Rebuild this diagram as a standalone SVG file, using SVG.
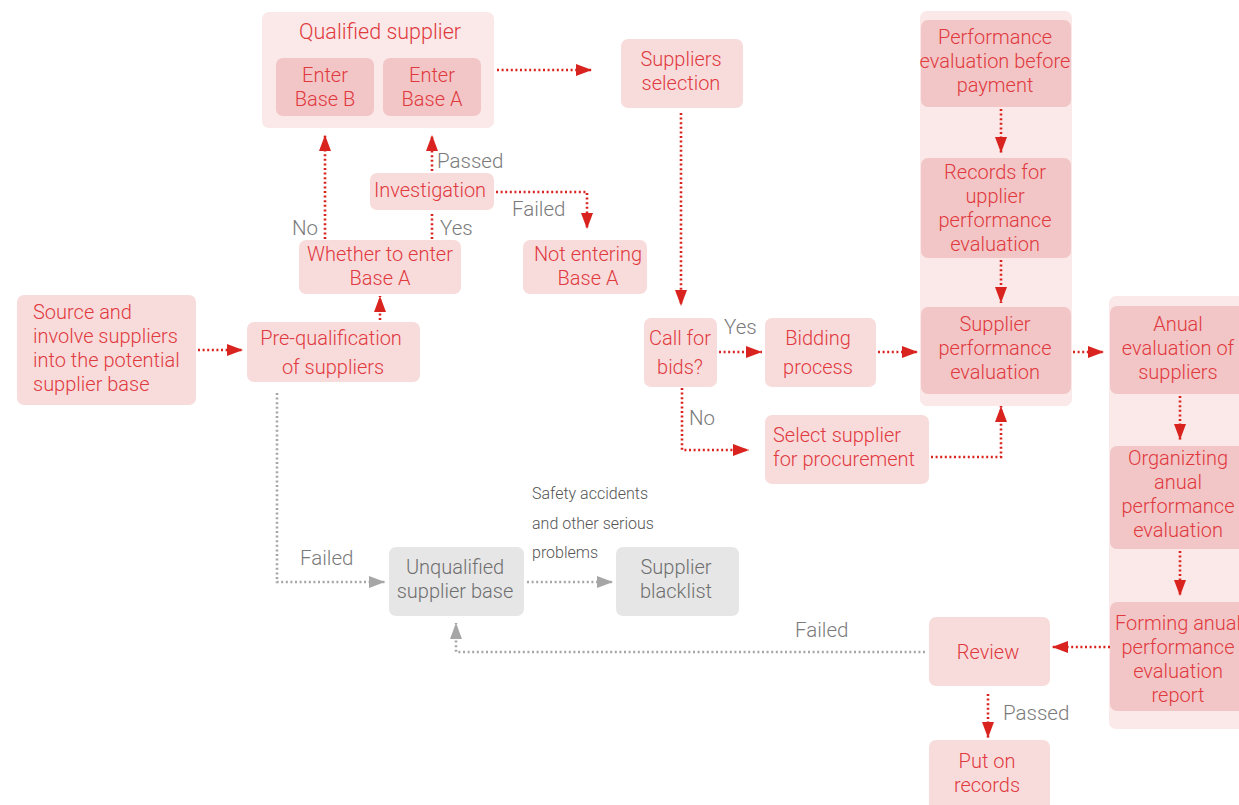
<svg xmlns="http://www.w3.org/2000/svg" width="1239" height="805" viewBox="0 0 1239 805">
  <style>
    .box { fill: #f8dcdc; }
    .inner { fill: #f2c6c6; }
    .panel { fill: #fbe8e8; }
    .gray { fill: #e6e6e6; }
    text { font-family: Roboto, "Liberation Sans", sans-serif; font-weight: 300; font-size: 20px; }
    .title { font-size: 21.5px; }
    .t { fill: #e0393e; text-anchor: middle; }
    .tl { fill: #e0393e; }
    .tg { fill: #6f6f6f; text-anchor: middle; }
    .lbl { fill: #7a7a7a; font-size: 20.5px; }
    .note { fill: #555555; font-size: 16px; }
    .red { fill: none; stroke: #d9231f; stroke-width: 2.6; stroke-dasharray: 2 2.6; }
    .grey { fill: none; stroke: #a6a6a6; stroke-width: 2.6; stroke-dasharray: 2 2.6; }
    .redarrow { marker-end: url(#ar); }
    .greyarrow { marker-end: url(#ag); }
  </style>
  <defs>
    <marker id="ar" viewBox="0 0 16 12" refX="16" refY="6" markerWidth="16" markerHeight="12" markerUnits="userSpaceOnUse" orient="auto">
      <path d="M0,0 L16,6 L0,12 z" fill="#d9231f"/>
    </marker>
    <marker id="ag" viewBox="0 0 16 12" refX="16" refY="6" markerWidth="16" markerHeight="12" markerUnits="userSpaceOnUse" orient="auto">
      <path d="M0,0 L16,6 L0,12 z" fill="#a6a6a6"/>
    </marker>
  </defs>

  <rect width="1239" height="805" fill="#ffffff"/>

  <!-- background panels -->
  <rect class="panel" x="920" y="11" width="152" height="395" rx="7"/>
  <rect class="panel" x="1109" y="296" width="140" height="433" rx="7"/>

  <!-- connectors -->
  <g id="connectors">
    <path class="red redarrow" d="M497,70 H592"/>
    <path class="red redarrow" d="M198,350 H243"/>
    <path class="red redarrow" d="M380,320 V296"/>
    <path class="red redarrow" d="M325,239 V135"/>
    <path class="red" d="M432,239 V212"/>
    <path class="red redarrow" d="M432,171 V135"/>
    <path class="red redarrow" d="M496,192 H587 V229"/>
    <path class="red redarrow" d="M681,113 V306"/>
    <path class="red redarrow" d="M719,352 H762"/>
    <path class="red redarrow" d="M878,352 H918"/>
    <path class="red redarrow" d="M682,388 V450 H749"/>
    <path class="red redarrow" d="M931,457 H1001 V406"/>
    <path class="red redarrow" d="M1001,109 V153"/>
    <path class="red redarrow" d="M1001,260 V303"/>
    <path class="red redarrow" d="M1073,352 H1104"/>
    <path class="red redarrow" d="M1180,396 V440"/>
    <path class="red redarrow" d="M1180,551 V596"/>
    <path class="red redarrow" d="M1110,647 H1052"/>
    <path class="red redarrow" d="M988,694 V738"/>
    <path class="grey greyarrow" d="M277,393 V582 H385"/>
    <path class="grey greyarrow" d="M527,582 H613"/>
    <path class="grey greyarrow" d="M925,652 H456 V623"/>
  </g>

  <!-- nodes -->
  <g id="qualified-supplier">
    <rect class="panel" x="262" y="12" width="232" height="116" rx="7"/>
    <text class="t title" x="380" y="39">Qualified supplier</text>
  </g>
  <g id="enter-base-b">
    <rect class="inner" x="276" y="58" width="98" height="58" rx="7"/>
    <text class="t" x="325" y="82">Enter</text>
    <text class="t" x="325" y="106">Base B</text>
  </g>
  <g id="enter-base-a">
    <rect class="inner" x="383" y="58" width="98" height="58" rx="7"/>
    <text class="t" x="432" y="82">Enter</text>
    <text class="t" x="432" y="106">Base A</text>
  </g>
  <g id="suppliers-selection">
    <rect class="box" x="621" y="39" width="122" height="69" rx="7"/>
    <text class="t" x="681" y="66">Suppliers</text>
    <text class="t" x="681" y="90">selection</text>
  </g>
  <g id="eval-before-payment">
    <rect class="inner" x="921" y="20" width="150" height="87" rx="7"/>
    <text class="t" x="995" y="44">Performance</text>
    <text class="t" x="995" y="68">evaluation before</text>
    <text class="t" x="995" y="92">payment</text>
  </g>
  <g id="evaluation-records">
    <rect class="inner" x="921" y="158" width="150" height="100" rx="7"/>
    <text class="t" x="995" y="179">Records for</text>
    <text class="t" x="995" y="203">upplier</text>
    <text class="t" x="995" y="227">performance</text>
    <text class="t" x="995" y="251">evaluation</text>
  </g>
  <g id="supplier-performance-evaluation">
    <rect class="inner" x="921" y="307" width="150" height="87" rx="7"/>
    <text class="t" x="995" y="331">Supplier</text>
    <text class="t" x="995" y="355">performance</text>
    <text class="t" x="995" y="379">evaluation</text>
  </g>
  <g id="annual-evaluation">
    <rect class="inner" x="1110" y="306" width="140" height="88" rx="7"/>
    <text class="t" x="1178" y="331">Anual</text>
    <text class="t" x="1178" y="355">evaluation of</text>
    <text class="t" x="1178" y="379">suppliers</text>
  </g>
  <g id="organizing-annual-evaluation">
    <rect class="inner" x="1110" y="446" width="140" height="103" rx="7"/>
    <text class="t" x="1178" y="465">Organizting</text>
    <text class="t" x="1178" y="489">anual</text>
    <text class="t" x="1178" y="513">performance</text>
    <text class="t" x="1178" y="537">evaluation</text>
  </g>
  <g id="annual-report">
    <rect class="inner" x="1110" y="602" width="140" height="109" rx="7"/>
    <text class="t" x="1178" y="630">Forming anual</text>
    <text class="t" x="1178" y="654">performance</text>
    <text class="t" x="1178" y="678">evaluation</text>
    <text class="t" x="1178" y="702">report</text>
  </g>
  <g id="review">
    <rect class="box" x="929" y="617" width="121" height="69" rx="7"/>
    <text class="t" x="988" y="659">Review</text>
  </g>
  <g id="put-on-records">
    <rect class="box" x="929" y="740" width="121" height="75" rx="7"/>
    <text class="t" x="987" y="768">Put on</text>
    <text class="t" x="987" y="792">records</text>
  </g>
  <g id="source-suppliers">
    <rect class="box" x="17" y="295" width="179" height="110" rx="7"/>
    <text class="tl" x="33" y="319">Source and</text>
    <text class="tl" x="33" y="343">involve suppliers</text>
    <text class="tl" x="33" y="367">into the potential</text>
    <text class="tl" x="33" y="391">supplier base</text>
  </g>
  <g id="pre-qualification">
    <rect class="box" x="247" y="322" width="173" height="60" rx="7"/>
    <text class="t" x="331" y="345">Pre-qualification</text>
    <text class="t" x="333" y="374">of suppliers</text>
  </g>
  <g id="whether-base-a">
    <rect class="box" x="299" y="240" width="162" height="54" rx="7"/>
    <text class="t" x="380" y="261">Whether to enter</text>
    <text class="t" x="380" y="285">Base A</text>
  </g>
  <g id="investigation">
    <rect class="box" x="370" y="173" width="124" height="37" rx="7"/>
    <text class="t" x="430" y="197">Investigation</text>
  </g>
  <g id="not-entering-base-a">
    <rect class="box" x="523" y="240" width="124" height="54" rx="7"/>
    <text class="t" x="588" y="261">Not entering</text>
    <text class="t" x="588" y="285">Base A</text>
  </g>
  <g id="call-for-bids">
    <rect class="box" x="644" y="318" width="73" height="69" rx="7"/>
    <text class="t" x="680" y="345">Call for</text>
    <text class="t" x="680" y="374">bids?</text>
  </g>
  <g id="bidding-process">
    <rect class="box" x="765" y="318" width="111" height="69" rx="7"/>
    <text class="t" x="818" y="345">Bidding</text>
    <text class="t" x="818" y="374">process</text>
  </g>
  <g id="select-supplier">
    <rect class="box" x="765" y="415" width="164" height="69" rx="7"/>
    <text class="tl" x="773" y="442">Select supplier</text>
    <text class="tl" x="773" y="466">for procurement</text>
  </g>
  <g id="unqualified-base">
    <rect class="gray" x="389" y="547" width="135" height="69" rx="7"/>
    <text class="tg" x="455" y="574">Unqualified</text>
    <text class="tg" x="455" y="598">supplier base</text>
  </g>
  <g id="supplier-blacklist">
    <rect class="gray" x="616" y="547" width="123" height="69" rx="7"/>
    <text class="tg" x="676" y="574">Supplier</text>
    <text class="tg" x="676" y="598">blacklist</text>
  </g>

  <!-- connector labels -->
  <g id="labels">
    <text class="lbl" x="437" y="168">Passed</text>
    <text class="lbl" x="318" y="235" text-anchor="end">No</text>
    <text class="lbl" x="440" y="235">Yes</text>
    <text class="lbl" x="512" y="216">Failed</text>
    <text class="lbl" x="724" y="334">Yes</text>
    <text class="lbl" x="689" y="425">No</text>
    <text class="lbl" x="300" y="565">Failed</text>
    <text class="lbl" x="795" y="637">Failed</text>
    <text class="lbl" x="1003" y="720">Passed</text>
    <text class="note" x="532" y="499">Safety accidents</text>
    <text class="note" x="532" y="529">and other serious</text>
    <text class="note" x="532" y="558">problems</text>
  </g>
</svg>
